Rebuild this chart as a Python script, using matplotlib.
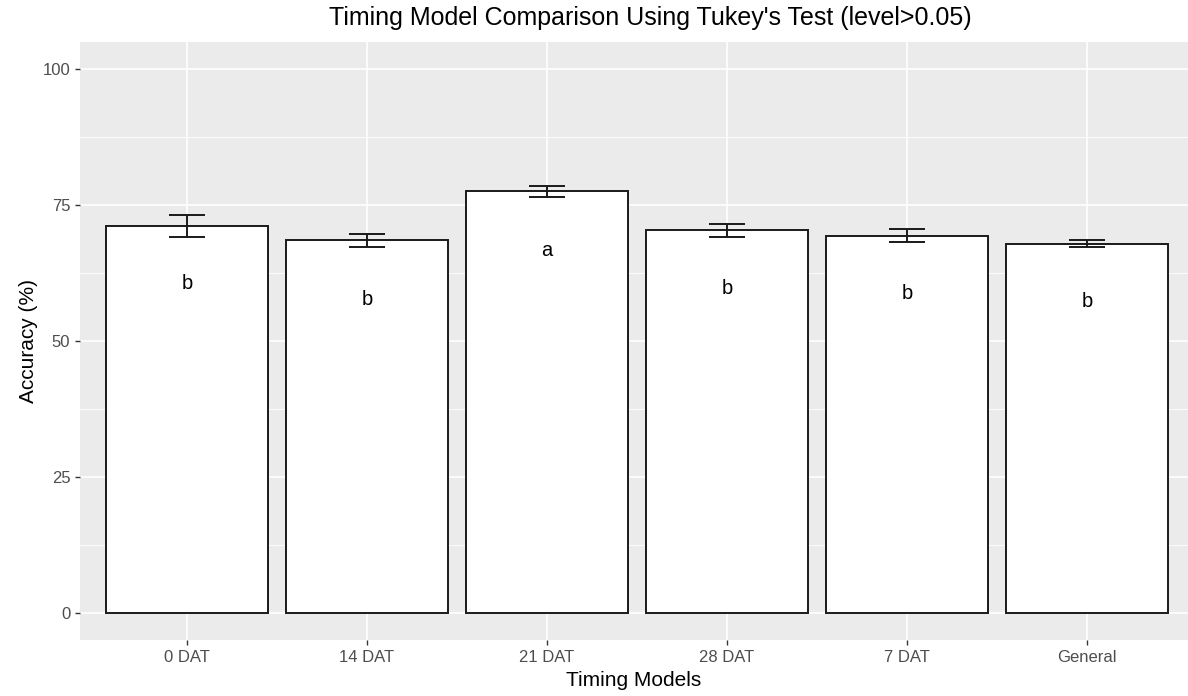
import numpy as np
import matplotlib.pyplot as plt

plt.rcParams['font.family'] = ['Liberation Sans', 'DejaVu Sans']

models = ['0 DAT', '14 DAT', '21 DAT', '28 DAT', '7 DAT', 'General']
accuracy = [71.2, 68.5, 77.5, 70.4, 69.4, 67.9]
std_err = [2.0, 1.2, 1.1, 1.2, 1.2, 0.7]
groups = ['b', 'b', 'a', 'b', 'b', 'b']
group_y = [60.5, 57.7, 66.7, 59.6, 58.8, 57.3]

fig = plt.figure(figsize=(11.88, 6.96), dpi=100)
ax = fig.add_axes([80 / 1188, 56 / 696, 1 - 80 / 1188, 598 / 696])
ax.set_facecolor('#EBEBEB')

x = np.arange(len(models))

# grid like ggplot: minor thinner than major
for v in [12.5, 37.5, 62.5, 87.5]:
    ax.axhline(v, color='white', lw=0.6, zorder=0)
for v in [0, 25, 50, 75, 100]:
    ax.axhline(v, color='white', lw=1.2, zorder=0)
for xi in x:
    ax.axvline(xi, color='white', lw=1.2, zorder=0)

ax.bar(x, accuracy, width=0.9, color='white', edgecolor='#1a1a1a', linewidth=1.4, zorder=2)
ax.errorbar(x, accuracy, yerr=std_err, fmt='none', ecolor='#1a1a1a', elinewidth=1.4,
            capsize=13, capthick=1.4, zorder=3)

for xi, g, gy in zip(x, groups, group_y):
    ax.text(xi, gy, g, ha='center', va='center', fontsize=14.5, color='black', zorder=4)

ax.set_xlim(-0.594, 5.561)
ax.set_ylim(-5, 105)
ax.set_xticks(x)
ax.set_xticklabels(models)
ax.set_yticks([0, 25, 50, 75, 100])
ax.tick_params(axis='both', colors='#333333', labelcolor='#4D4D4D', labelsize=12,
               length=3.5, width=1)
ax.tick_params(axis='x', pad=4)
for s in ax.spines.values():
    s.set_visible(False)

ax.set_xlabel('Timing Models', fontsize=15, labelpad=4)
ax.set_ylabel('Accuracy (%)', fontsize=15, labelpad=3)
fig.text(650 / 1188, 1 - 18 / 696, "Timing Model Comparison Using Tukey's Test (level>0.05)",
         ha='center', va='center', fontsize=18)

fig.savefig('out.png', dpi=100)
